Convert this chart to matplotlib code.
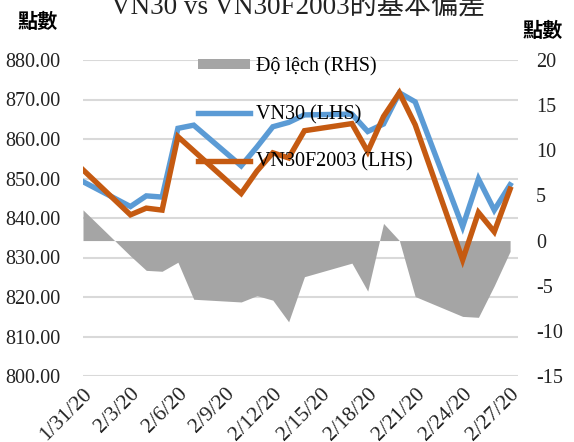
import matplotlib
matplotlib.use('Agg')
import matplotlib.pyplot as plt
from matplotlib.patches import Patch
from matplotlib.lines import Line2D
import pandas as pd

plt.rcParams['font.family'] = ['Liberation Serif', 'Noto Sans CJK TC']

# data
dates = pd.to_datetime(['2020-01-31', '2020-02-03', '2020-02-04', '2020-02-05', '2020-02-06',
                        '2020-02-07', '2020-02-10', '2020-02-11', '2020-02-12', '2020-02-13',
                        '2020-02-14', '2020-02-17', '2020-02-18', '2020-02-19', '2020-02-20',
                        '2020-02-21', '2020-02-24', '2020-02-25', '2020-02-26', '2020-02-27'])
vn30 = [849.2, 842.9, 845.6, 845.3, 862.7, 863.5, 853.2, 858.0, 863.1, 864.2,
        866.1, 866.3, 861.9, 863.8, 871.7, 869.4, 837.8, 849.9, 842.0, 848.4]
vn30f = [852.2, 840.8, 842.5, 842.0, 860.6, 857.0, 846.2, 851.9, 856.5, 855.2,
         862.1, 863.9, 856.8, 865.7, 871.7, 863.6, 829.4, 841.4, 836.5, 847.3]
deviation = [3.4, -1.7, -3.3, -3.4, -2.4, -6.5, -6.8, -6.1, -6.6, -9.0,
             -4.0, -2.5, -5.6, 1.9, 0.0, -6.2, -8.4, -8.5, -5.0, -1.2]
tick_dates = pd.date_range('2020-01-31', '2020-02-27', freq='3D')
left_ticks = [800, 810, 820, 830, 840, 850, 860, 870, 880]
right_ticks = [-15, -10, -5, 0, 5, 10, 15, 20]

W, H = 574, 442
fig = plt.figure(figsize=(W / 100, H / 100), dpi=100)
axL = fig.add_axes([83 / W, 1 - 376 / H, (518 - 83) / W, (376 - 60) / H])
axR = axL.twinx()
axT = axL.twinx()

# gridlines + left axis
axL.set_ylim(800, 880)
axL.set_yticks(left_ticks)
axL.set_yticklabels([f'{v:.2f}' for v in left_ticks], fontsize=14.5, color='#222222')
axL.grid(axis='y', color='#D9D9D9', linewidth=1.5)
axL.set_axisbelow(True)

# deviation area on right axis
axR.fill_between(dates, deviation, 0, color='#A5A5A5', linewidth=0)
axR.set_ylim(-15, 20)
axR.set_yticks(right_ticks)
axR.set_yticklabels([str(v) for v in right_ticks], fontsize=14.5, color='#222222')

# price lines on top
axT.plot(dates, vn30, color='#5B9BD5', linewidth=3.9, solid_joinstyle='miter')
axT.plot(dates, vn30f, color='#C55A11', linewidth=3.9, solid_joinstyle='miter')
axT.set_ylim(800, 880)
axT.set_yticks([])

axL.set_xlim(pd.Timestamp('2020-01-31'), pd.Timestamp('2020-02-27') + pd.Timedelta(hours=12))
axL.set_xticks(tick_dates)
axL.set_xticklabels([f'{d.month}/{d.day}/{d.year % 100}' for d in tick_dates],
                    rotation=45, ha='right', va='top', rotation_mode='anchor',
                    fontsize=15.5, color='#222222')

for a in (axL, axR, axT):
    for s in a.spines.values():
        s.set_visible(False)
    a.tick_params(length=0)
axL.tick_params(axis='y', pad=16)
axL.tick_params(axis='x', pad=6)
axR.tick_params(axis='y', pad=13)

handles = [Patch(facecolor='#A5A5A5', edgecolor='none'),
           Line2D([], [], color='#5B9BD5', linewidth=3.9),
           Line2D([], [], color='#C55A11', linewidth=3.9)]
labels = ['Độ lệch (RHS)', 'VN30 (LHS)', 'VN30F2003 (LHS)']
axT.legend(handles, labels, loc='upper left', bbox_to_anchor=(198 / W, 1 - 57 / H),
           bbox_transform=fig.transFigure, frameon=False, fontsize=14.5,
           borderpad=0, borderaxespad=0, handlelength=2.6, handletextpad=0.3,
           handleheight=0.35, labelspacing=1.42)

fig.text(298 / W, 1 - 14 / H, 'VN30 vs VN30F2003的基本偏差', ha='center', va='baseline',
         fontsize=19.5, color='#222222')
fig.text(38 / W, 1 - 21 / H, '點數', ha='center', va='center', fontsize=14.5,
         fontweight='bold', family=['Noto Sans CJK TC'])
fig.text(543 / W, 1 - 30 / H, '點數', ha='center', va='center', fontsize=14.5,
         fontweight='bold', family=['Noto Sans CJK TC'])

fig.savefig('out.png', dpi=100)
